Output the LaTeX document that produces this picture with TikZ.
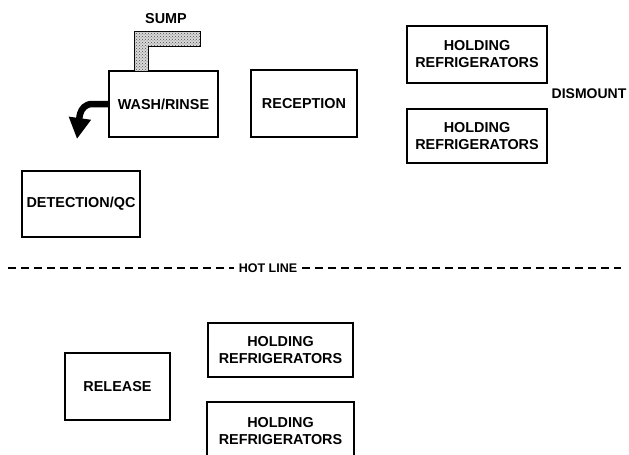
\documentclass[tikz,border=0pt]{standalone}
\usepackage{fontspec}
\setmainfont{Liberation Sans}
\usetikzlibrary{arrows.meta,patterns}
\begin{document}
\begin{tikzpicture}[x=1pt,y=-1pt,
  lbl/.style={font=\bfseries\fontsize{14.4}{17}\selectfont, align=center, inner sep=0pt},
  room/.style={lbl, draw, line width=1.2pt, rectangle},
  hot/.style={line width=2pt, dash pattern=on 8pt off 5pt}]
\useasboundingbox (0,0) rectangle (629,455);
% upper area
\node[room, minimum width=109, minimum height=66] (wash) at (163.5,104) {WASH/RINSE};
\node[room, minimum width=106, minimum height=67] (reception) at (304,103.5) {RECEPTION};
\node[room, minimum width=140, minimum height=57] (holdA) at (477,54.5) {HOLDING\\REFRIGERATORS};
\node[room, minimum width=140, minimum height=54] (holdB) at (477,136) {HOLDING\\REFRIGERATORS};
\node[lbl, font=\bfseries\fontsize{14}{17}\selectfont] (dismount) at (589,94) {DISMOUNT};
\node[room, minimum width=118, minimum height=66] (detect) at (81,204) {DETECTION/QC};
% sump
\filldraw[line width=1pt, fill=gray!30, pattern color=black!70, postaction={pattern=crosshatch dots}]
  (134,71) -- (134,31) -- (200,31) -- (200,46) -- (148,46) -- (148,71) -- cycle;
\node[lbl] (sump) at (166,19) {SUMP};
% drain arrow
\coordinate (drain) at (77,139);
\draw[line width=6.5pt, -{Triangle[width=21pt,length=21pt]}]
  (wash.west) -- ++(-16,0) to[out=180,in=82] (drain);
% hot line
\node[lbl, font=\bfseries\fontsize{12.5}{15}\selectfont] (hotline) at (268,268) {HOT LINE};
\coordinate (hlL) at (8,268);
\coordinate (hlR) at (621,268);
\draw[hot] (hlL) -- ([xshift=-5pt]hotline.west);
\draw[hot] ([xshift=5pt]hotline.east) -- (hlR);
% lower area
\node[room, minimum width=105, minimum height=67] (release) at (117.5,386.5) {RELEASE};
\node[room, minimum width=145, minimum height=54] (holdC) at (280.5,350) {HOLDING\\REFRIGERATORS};
\node[room, minimum width=147, minimum height=58] (holdD) at (280.5,431) {HOLDING\\REFRIGERATORS};
\end{tikzpicture}
\end{document}
